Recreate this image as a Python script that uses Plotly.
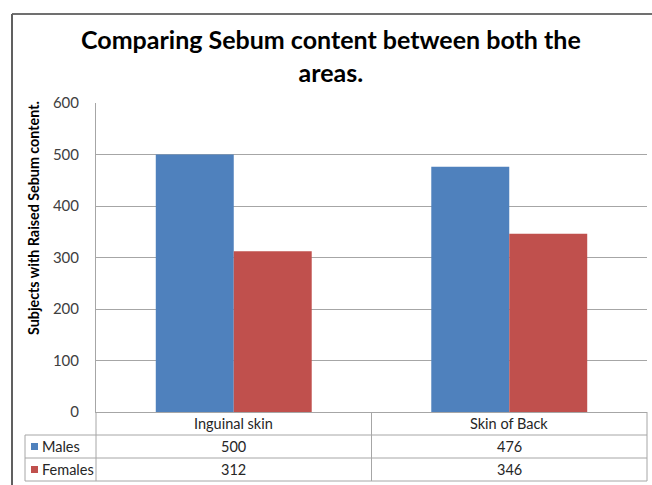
import plotly.graph_objects as go

categories = ["Inguinal skin", "Skin of Back"]
males = [500, 476]
females = [312, 346]
series_names = ["Males", "Females"]
y_ticks = [0, 100, 200, 300, 400, 500, 600]
title_text = "Comparing Sebum content between both the<br>areas."
y_title = "Subjects with Raised Sebum content."

W, H = 652, 485
L, R, T, B = 96, 647, 103, 412
FONT = "Lato, Carlito, Calibri, sans-serif"
BLUE = "#4F81BD"
RED = "#C0504D"
GRID = "#A6A6A6"


def px(p):
    return (p - L) / (R - L)


def py(p):
    return (B - p) / (B - T)


fig = go.Figure()
fig.add_trace(go.Bar(x=categories, y=males, name=series_names[0], marker=dict(color=BLUE, line=dict(width=0))))
fig.add_trace(go.Bar(x=categories, y=females, name=series_names[1], marker=dict(color=RED, line=dict(width=0))))

shapes = []
line_style = dict(color=GRID, width=1)
# outer chart border
shapes.append(dict(type="line", xref="paper", yref="paper", x0=px(12), x1=px(652), y0=py(14), y1=py(14), line=dict(color="#404040", width=1.5)))
shapes.append(dict(type="line", xref="paper", yref="paper", x0=px(12), x1=px(12), y0=py(14), y1=py(485), line=dict(color="#606060", width=2)))
# data table horizontal lines
for yy in [435, 458, 481]:
    shapes.append(dict(type="line", xref="paper", yref="paper", x0=px(25), x1=px(R), y0=py(yy), y1=py(yy), line=line_style))
# data table vertical lines
shapes.append(dict(type="line", xref="paper", yref="paper", x0=px(25), x1=px(25), y0=py(435), y1=py(481), line=line_style))
for xx in [L, (L + R) / 2, R]:
    shapes.append(dict(type="line", xref="paper", yref="paper", x0=px(xx), x1=px(xx), y0=py(B), y1=py(481), line=line_style))
# legend keys in the data table
for col, yy in [(BLUE, 446.5), (RED, 469.5)]:
    shapes.append(dict(type="rect", xref="paper", yref="paper", x0=px(31), x1=px(38), y0=py(yy - 3.5), y1=py(yy + 3.5),
                       fillcolor=col, line=dict(width=0)))

annotations = []
# title
annotations.append(dict(text="<b>" + title_text + "</b>", xref="paper", yref="paper", x=px(331), y=py(56),
                        showarrow=False, font=dict(family=FONT, size=25, color="#000000"), align="center",
                        xanchor="center", yanchor="middle"))
# y-axis title
annotations.append(dict(text="<b>" + y_title + "</b>", xref="paper", yref="paper", x=px(33), y=py(218),
                        showarrow=False, textangle=-90, font=dict(family=FONT, size=14.3, color="#000000"),
                        xanchor="center", yanchor="middle"))
# table text
rows = [(series_names[0], males, 446.5), (series_names[1], females, 469.5)]
TFONT = dict(family=FONT, size=14.5, color="#262626")
for c in categories:
    annotations.append(dict(text=c, xref="x", yref="paper", x=c, y=py(423.5), showarrow=False,
                            font=TFONT, xanchor="center", yanchor="middle"))
for name, vals, yy in rows:
    annotations.append(dict(text=name, xref="paper", yref="paper",
                            x=px(39.5), y=py(yy), showarrow=False, font=TFONT,
                            xanchor="left", yanchor="middle"))
    for c, v in zip(categories, vals):
        annotations.append(dict(text=str(v), xref="x", yref="paper", x=c, y=py(yy), showarrow=False,
                                font=TFONT, xanchor="center", yanchor="middle"))

fig.update_layout(
    width=W, height=H,
    margin=dict(l=L, r=W - R, t=T, b=H - B, pad=0),
    paper_bgcolor="white", plot_bgcolor="white",
    barmode="group", bargap=0.434, bargroupgap=0,
    showlegend=False,
    shapes=shapes, annotations=annotations,
    font=dict(family=FONT),
)
fig.update_xaxes(showticklabels=False, showgrid=False, zeroline=False, showline=True, linecolor=GRID,
                 linewidth=1, ticks="")
fig.update_yaxes(range=[0, 600], tickvals=y_ticks, showgrid=True, gridcolor=GRID, gridwidth=1,
                 zeroline=False, showline=True, linecolor=GRID, linewidth=1,
                 ticks="outside", ticklen=13, tickcolor="rgba(0,0,0,0)",
                 tickfont=dict(family=FONT, size=15, color="#404040"))

fig.write_html("out.html")
